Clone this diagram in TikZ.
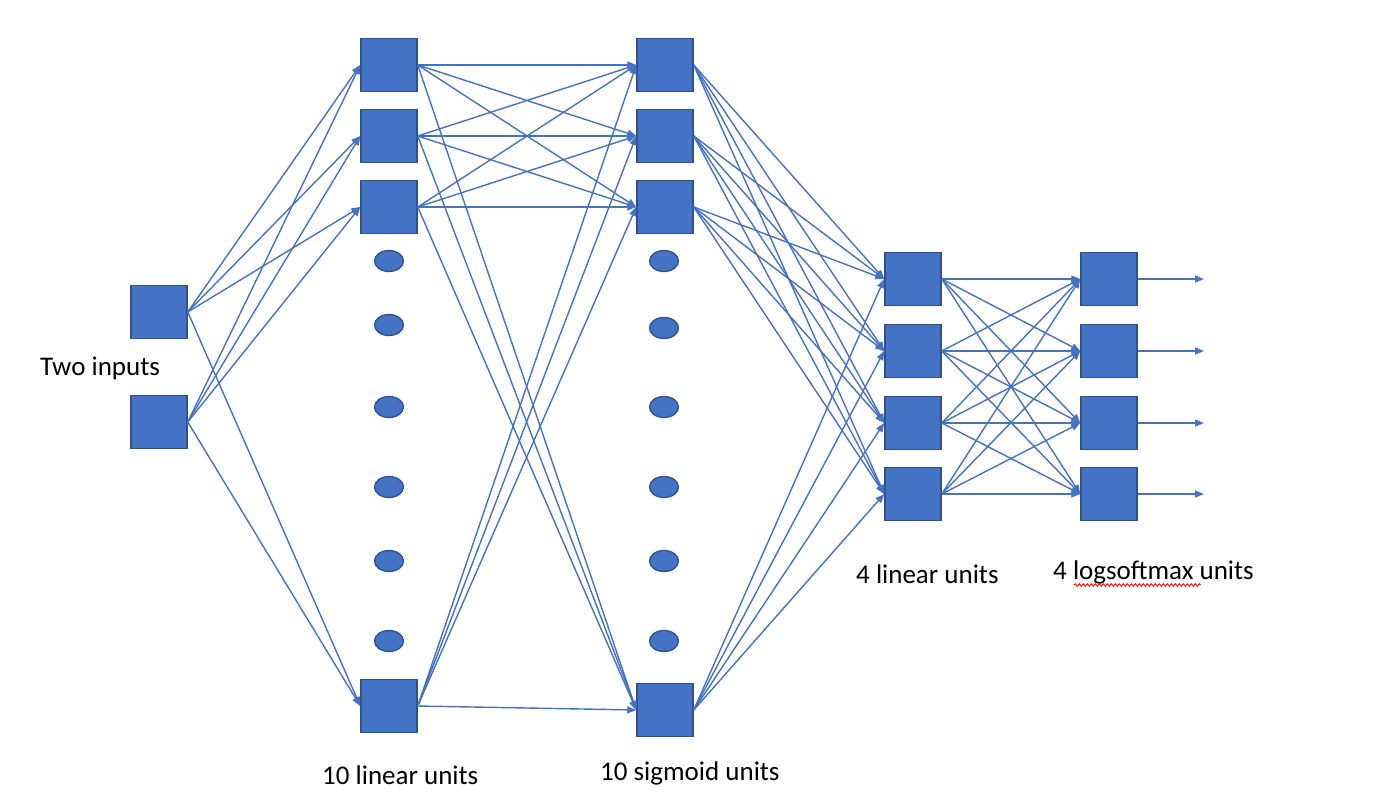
\documentclass[tikz,border=0pt]{standalone}
\usepackage{fontspec}
\setmainfont{Carlito}
\usetikzlibrary{arrows.meta,decorations.pathmorphing}
\definecolor{unitfill}{HTML}{4472C4}
\definecolor{unitborder}{HTML}{2F528F}
\definecolor{linkcol}{HTML}{4472C4}
\tikzset{
  unit/.style={draw=unitborder, fill=unitfill, line width=1.5pt, minimum width=56pt, minimum height=53pt, inner sep=0pt},
  dotunit/.style={draw=unitborder, fill=unitfill, line width=1.3pt, ellipse, minimum width=29pt, minimum height=21pt, inner sep=0pt},
  link/.style={draw=linkcol, line width=1.4pt, -{Triangle[length=9pt,width=7pt]}},
  lab/.style={anchor=base west, inner sep=0pt, font=\fontsize{27}{32}\selectfont},
}
\usetikzlibrary{shapes.geometric}
\begin{document}
\begin{tikzpicture}[x=1pt,y=-1pt]
\useasboundingbox (0,0) rectangle (1394,800);
% inputs
\node[unit] (i1) at (159,312) {};
\node[unit] (i2) at (159,422) {};
% layer 1
\node[unit] (a1) at (389,65) {};
\node[unit] (a2) at (389,136) {};
\node[unit] (a3) at (389,207) {};
\node[unit] (a4) at (389,706) {};
% layer 2
\node[unit] (b1) at (665,65) {};
\node[unit] (b2) at (665,136) {};
\node[unit] (b3) at (665,207) {};
\node[unit] (b4) at (665,710) {};
% ellipses
\foreach \y [count=\k] in {261,325,407,487,561,641}{
  \node[dotunit] (ea\k) at (389,\y) {};
}
\foreach \y [count=\k] in {261,328,407,487,561,641}{
  \node[dotunit] (eb\k) at (664,\y) {};
}
% layer 3
\node[unit] (c1) at (913,279) {};
\node[unit] (c2) at (913,351) {};
\node[unit] (c3) at (913,423) {};
\node[unit] (c4) at (913,494) {};
% layer 4
\node[unit] (d1) at (1109,279) {};
\node[unit] (d2) at (1109,351) {};
\node[unit] (d3) at (1109,423) {};
\node[unit] (d4) at (1109,494) {};
% outputs
\coordinate (o1) at (1204,279);
\coordinate (o2) at (1204,351);
\coordinate (o3) at (1204,423);
\coordinate (o4) at (1204,494);
% connections
\foreach \s in {i1,i2}{\foreach \t in {a1,a2,a3,a4}{\draw[link] (\s.east) -- (\t.west);}}
\foreach \s in {a1,a2,a3,a4}{\foreach \t in {b1,b2,b3,b4}{\draw[link] (\s.east) -- (\t.west);}}
\foreach \s in {b1,b2,b3,b4}{\foreach \t in {c1,c2,c3,c4}{\draw[link] (\s.east) -- (\t.west);}}
\foreach \s in {c1,c2,c3,c4}{\foreach \t in {d1,d2,d3,d4}{\draw[link] (\s.east) -- (\t.west);}}
\foreach \k in {1,2,3,4}{\draw[link] (d\k.east) -- (o\k);}
% labels
\node[lab] (l0) at (40,375) {Two inputs};
\node[lab] (l1) at (322,784) {10 linear units};
\node[lab] (l2) at (600,780) {10 sigmoid units};
\node[lab] (l3) at (856,583) {4 linear units};
\node[lab] (l4) at (1053,579) {4 logsoftmax units};
\draw[red, line width=0.9pt, decorate, decoration={snake, amplitude=1.3pt, segment length=4pt}] (1074,585) -- (1201,585);
\end{tikzpicture}
\end{document}
